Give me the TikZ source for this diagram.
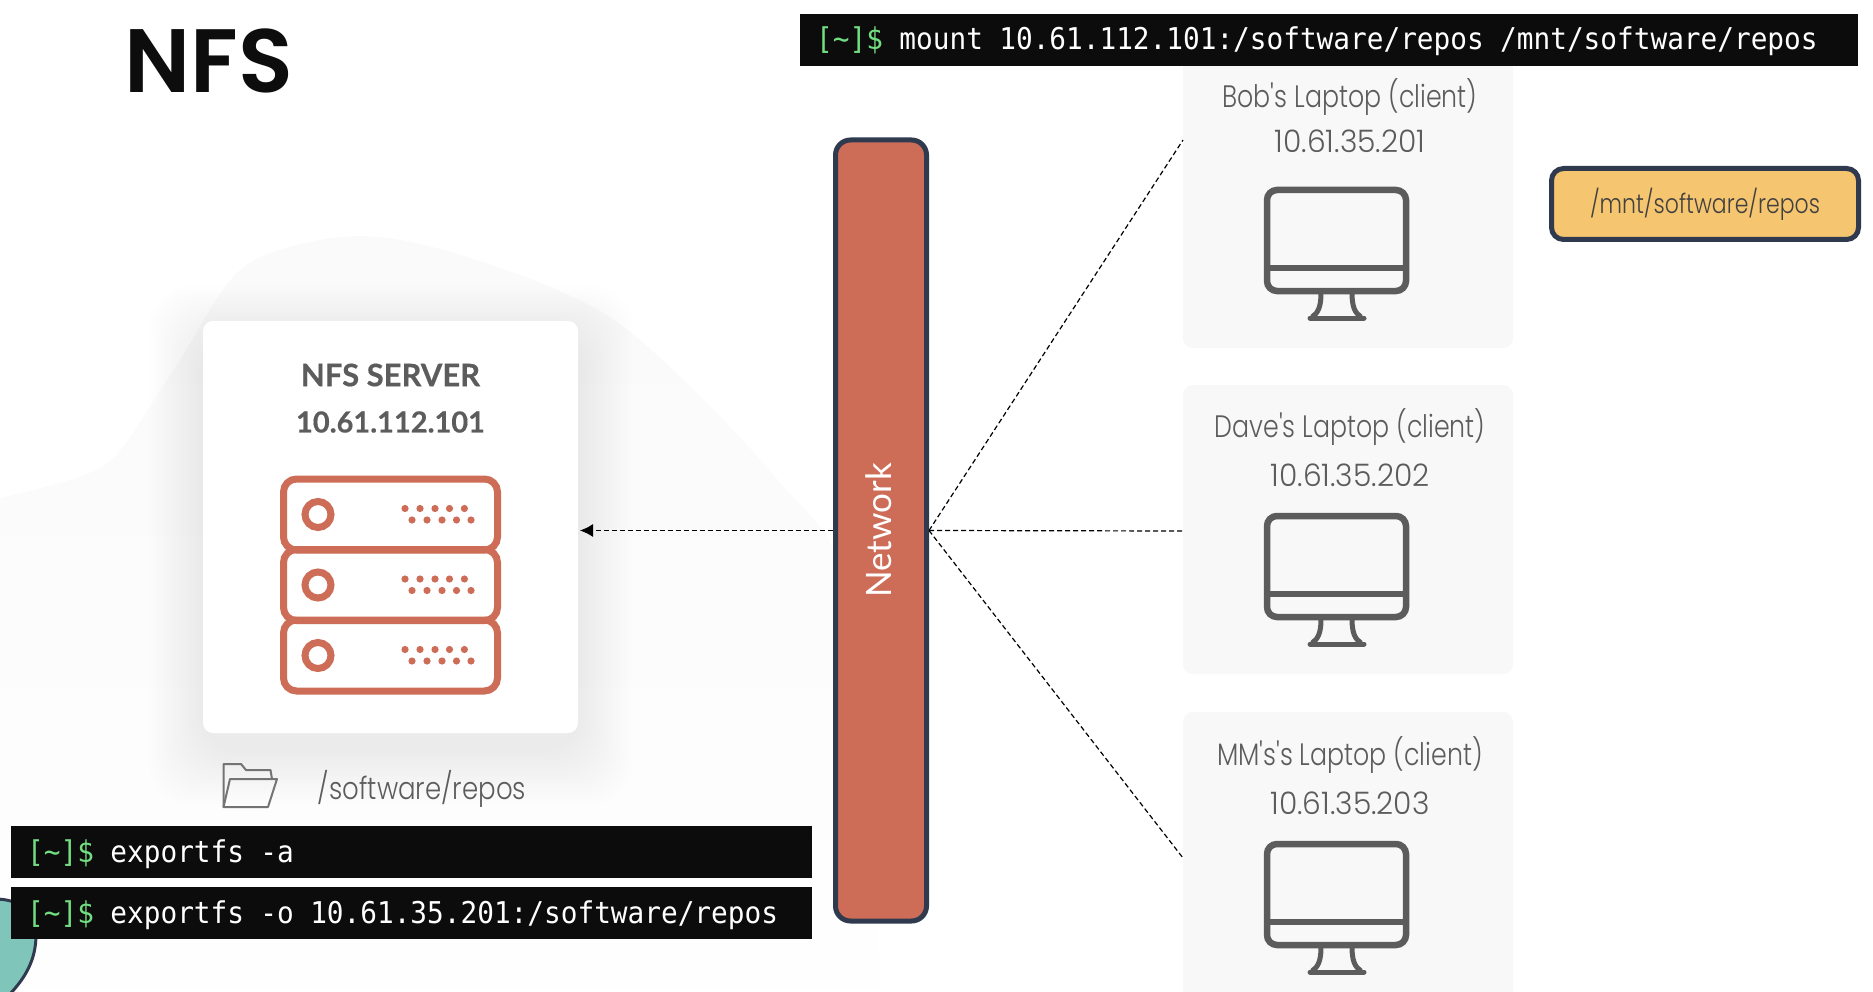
\documentclass[tikz,border=0pt]{standalone}
\usepackage{fontspec}
\usepackage{tikz}
\usetikzlibrary{calc,arrows.meta,fadings}
\newfontfamily\thinfont[FakeStretch=0.815]{Poppins Light}
\newfontfamily\pathfont[FakeStretch=0.84]{Poppins Light}
\newfontfamily\ipfont[FakeStretch=0.96]{Poppins Light}
\newfontfamily\titlefont{Poppins SemiBold}
\newfontfamily\labelfont[BoldFeatures={FakeBold=0.4}]{Lato}
\setmonofont[FakeStretch=0.925]{DejaVu Sans Mono}
\definecolor{brick}{HTML}{CD6D57}
\definecolor{slatedark}{HTML}{2F3A4F}
\definecolor{sand}{HTML}{F5C56F}
\definecolor{iconway}{HTML}{5C5C5C}
\definecolor{promptgreen}{HTML}{72DE82}
\definecolor{barblack}{HTML}{0C0C0C}
\definecolor{cardgray}{HTML}{F8F8F8}
\definecolor{mint}{HTML}{7FC5B9}
\newcommand{\prompt}{\setlength{\spaceskip}{16.4pt}\textcolor{promptgreen}{[\char126]\$} }
\tikzset{
  termbar/.style={fill=barblack,text=white,anchor=west,align=left,minimum height=52pt,inner xsep=16pt,
    inner ysep=0pt,text height=22pt,text depth=2pt,font=\ttfamily\fontsize{30}{30}\selectfont},
  clientcard/.style={fill=cardgray,rounded corners=10pt,minimum width=330pt,inner sep=0pt},
  clienttext/.style={text=iconway,font=\thinfont\fontsize{31}{31}\selectfont,inner sep=0pt},
  ipntext/.style={text=iconway,font=\ipfont\fontsize{31}{31}\selectfont,inner sep=0pt},
  servertext/.style={text=iconway,font=\labelfont\bfseries\fontsize{31}{31}\selectfont,inner sep=0pt},
  linkline/.style={densely dashed,line width=1.2pt,dash pattern=on 5pt off 3pt},
  monline/.style={draw=iconway,line width=6.5pt},
  rackline/.style={draw=brick,line width=7pt},
  pics/monitor/.style={code={
    \draw[monline,rounded corners=10pt] (3,3) rectangle (142,104);
    \draw[monline] (3,81)--(142,81);
    \draw[monline,line width=5pt] (57,106) .. controls (57,120) and (54,126) .. (48,130);
    \draw[monline,line width=5pt] (88,106) .. controls (88,120) and (91,126) .. (97,130);
    \draw[monline,line width=5pt,line cap=round] (46,131)--(100,131);
  }},
  pics/rackunit/.style={code={
    \draw[rackline,rounded corners=13pt] (283.5,0) rectangle (497.5,71);
    \draw[rackline] (318,35.5) circle[radius=13pt];
    \foreach \dx in {405,420,435,449.5,464.4} \fill[brick] (\dx,29.5) circle[radius=3.6pt];
    \foreach \dx in {412,427,442,456.5,471} \fill[brick] (\dx,41) circle[radius=3.6pt];
  }}
}
\begin{document}
\begin{tikzpicture}[x=1pt,y=-1pt]
  \path[use as bounding box,clip] (0,0) rectangle (1873,992);
  \fill[white] (0,0) rectangle (1873,992);
  \fill[gray!4,path fading=south] plot[smooth] coordinates {(0,498) (79,477) (119,452) (178,363) (245,266) (356,236) (474,259) (620,324) (776,478) (850,600) (880,990)} -- (0,990) -- cycle;
  \foreach \g in {3,6,...,54} \fill[black,opacity=0.004,rounded corners=40pt] (203-\g,340-\g) rectangle (578+\g,750+\g);
  \node[fill=white,rounded corners=10pt,minimum width=375pt,minimum height=412pt,inner sep=0pt] (nfscard) at (390.5,527) {};
  \node[servertext] (nfsname) at (390.5,375) {NFS SERVER};
  \node[servertext,font=\labelfont\bfseries\fontsize{29}{29}\selectfont] (nfsip) at (390.5,422) {10.61.112.101};
  \pic at (0,479) {rackunit};
  \pic at (0,549.5) {rackunit};
  \pic at (0,620) {rackunit};
  \node[clienttext,font=\pathfont\fontsize{31}{31}\selectfont] (nfspath) at (422,789) {/software/repos};
  \draw[draw=iconway!85,line width=2pt,line join=round] (223.5,807)--(223.5,764)--(241,764)--(246,770)--(270.5,770)--(272,779);
  \draw[draw=iconway!85,line width=2pt,line join=round] (223.5,807)--(230,779)--(277,779)--(268,807)--cycle;
  \draw[slatedark,fill=mint,line width=3pt] (-5,899) .. controls (20,899) and (36,912) .. (36,935) .. controls (36,960) and (25,978) .. (10,994) -- (-5,994) -- cycle;
  \node[termbar,text width=769pt] (exportall) at (11,852) {\prompt exportfs -a};
  \node[termbar,text width=769pt] (exportone) at (11,913) {\prompt exportfs -o 10.61.35.201:/software/repos};
  \node[clientcard,minimum height=290pt] (bobcard) at (1348,203) {};
  \node[clientcard,minimum height=289pt] (davecard) at (1348,529.5) {};
  \node[clientcard,minimum height=300pt] (mmcard) at (1348,862) {};
  \node[termbar,text width=1026pt] (mountcmd) at (800,40) {\prompt mount 10.61.112.101:/software/repos /mnt/software/repos};
  \node[clienttext] (bobname) at (1350,97) {Bob's Laptop (client)};
  \node[ipntext] (bobip) at (1350,141) {10.61.35.201};
  \pic at (1264,187) {monitor};
  \node[clienttext] (davename) at (1350,427) {Dave's Laptop (client)};
  \node[ipntext] (daveip) at (1350,475) {10.61.35.202};
  \pic at (1264,513) {monitor};
  \node[clienttext] (mmname) at (1350,755) {MM's's Laptop (client)};
  \node[ipntext] (mmip) at (1350,803) {10.61.35.203};
  \pic at (1264,841) {monitor};
  \node[draw=slatedark,fill=brick,line width=5pt,rounded corners=15pt,minimum width=781pt,minimum height=91pt,inner sep=0pt,rotate=90,text=white,text depth=4pt,font=\labelfont\fontsize{35}{35}\selectfont] (network) at (881,530.5) {Network};
  \node[draw=slatedark,fill=sand,line width=5pt,rounded corners=12pt,minimum width=307pt,minimum height=71pt,inner sep=0pt,text=iconway!70!black,font=\thinfont\fontsize{27}{27}\selectfont] (mountbox) at (1705,204) {/mnt/software/repos};
  \coordinate (bobport) at (1183,140);
  \coordinate (daveport) at (1183,531);
  \coordinate (mmport) at (1183,858);
  \coordinate (nfsport) at (580,530.5);
  \draw[linkline] (network.south) -- (bobport);
  \draw[linkline] (network.south) -- (daveport);
  \draw[linkline] (network.south) -- (mmport);
  \draw[linkline,-{Latex[length=13pt,width=13pt]}] (network.north) -- (nfsport);
  \node[inner sep=0pt,anchor=west,font=\titlefont\fontsize{90}{90}\selectfont,text=black!95] (title) at (124,61) {NFS};
\end{tikzpicture}
\end{document}
